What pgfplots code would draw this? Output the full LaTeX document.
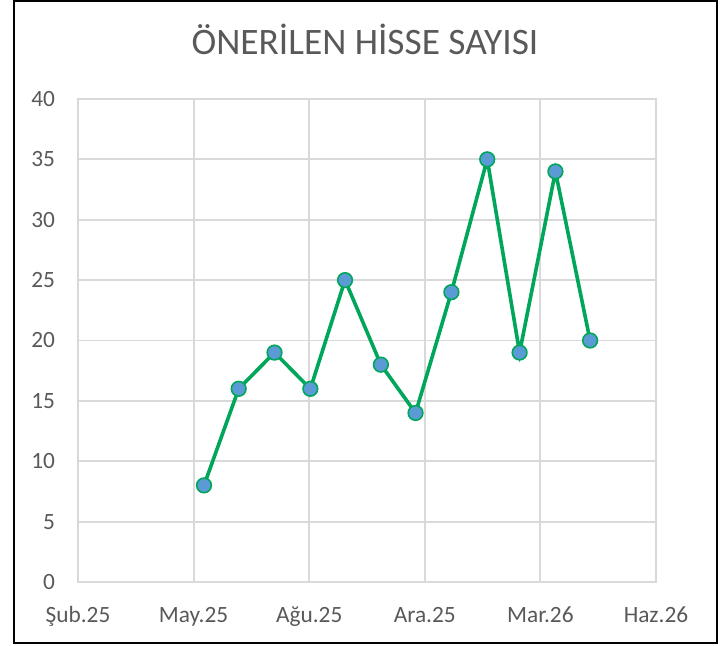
\documentclass[border=0pt]{standalone}
\usepackage{fontspec}
\setmainfont{Carlito}
\usepackage{pgfplots}
\pgfplotsset{compat=1.18}
\definecolor{gridc}{RGB}{217,217,217}
\definecolor{txt}{RGB}{89,89,89}
\definecolor{lin}{RGB}{0,166,90}
\definecolor{mk}{RGB}{91,155,213}
\begin{document}
\begin{tikzpicture}[x=1pt,y=1pt]
\useasboundingbox (-58.5,-47.25) rectangle (483.75,436.5);
\begin{axis}[
  at={(0pt,0pt)}, anchor=south west,
  scale only axis, width=433.5pt, height=362.25pt,
  xmin=0, xmax=500, ymin=0, ymax=40,
  xtick={0,100,200,300,400,500},
  xticklabels={Şub.25,May.25,Ağu.25,Ara.25,Mar.26,Haz.26},
  ytick={0,5,...,40},
  grid=major,
  major grid style={gridc, line width=1.4pt},
  axis line style={gridc, line width=1.4pt},
  tick style={draw=none},
  /pgf/number format/assume math mode=true,
  ticklabel style={font=\fontsize{17.5}{21}\selectfont, text=txt},
  xticklabel style={anchor=base, yshift=-30pt},
  yticklabel style={anchor=east, inner sep=0pt, xshift=-17pt},
  clip=false,
]
\addplot[color=lin, line width=2.7pt, mark=*, mark size=5.5pt,
  mark options={fill=mk, draw=lin, line width=1.2pt}]
  coordinates {(109,8)(139,16)(170,19)(201,16)(231,25)(262,18)(292,14)(323,24)(354,35)(382,19)(413,34)(443,20)};
\end{axis}
\draw[black, line width=1.6pt] (-48,-45.75) rectangle (479.25,435.75);
\node[anchor=base, text=txt, font=\fontsize{28}{32}\selectfont] at (215.25,395.25) {ÖNERİLEN HİSSE SAYISI};
\end{tikzpicture}
\end{document}
